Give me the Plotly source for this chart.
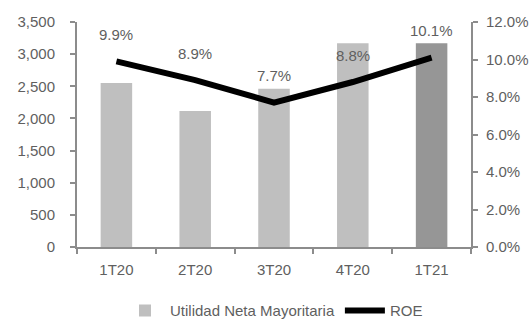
import plotly.graph_objects as go

categories = ["1T20", "2T20", "3T20", "4T20", "1T21"]
utilidad = [2550, 2115, 2460, 3170, 3170]
roe = [9.9, 8.9, 7.7, 8.8, 10.1]
roe_labels = ["9.9%", "8.9%", "7.7%", "8.8%", "10.1%"]
bar_colors = ["#BFBFBF", "#BFBFBF", "#BFBFBF", "#BFBFBF", "#969696"]

FONT = "Liberation Sans, Arial, sans-serif"
TXT = "#5F5F5F"
AX = "#8C8C8C"

fig = go.Figure()
fig.add_trace(go.Bar(
    x=categories, y=utilidad, name="Utilidad Neta Mayoritaria",
    marker=dict(color=bar_colors, line=dict(width=0)),
    yaxis="y",
))
fig.add_trace(go.Scatter(
    x=categories, y=[v / 100 for v in roe], name="ROE",
    mode="lines", line=dict(color="black", width=6),
    yaxis="y2",
))

for c, v, t in zip(categories, roe, roe_labels):
    fig.add_annotation(x=c, y=v / 100, yref="y2", text=t, showarrow=False,
                       yshift=27, font=dict(family=FONT, size=15, color=TXT))

fig.update_layout(
    width=532, height=322,
    margin=dict(l=77, r=61, t=22, b=75, autoexpand=False),
    paper_bgcolor="white", plot_bgcolor="white",
    font=dict(family=FONT, size=15, color=TXT),
    bargap=0.6,
    showlegend=True,
    legend=dict(orientation="h", x=0.5, xanchor="center",
                yref="container", y=0.035, yanchor="middle",
                font=dict(family=FONT, size=15, color=TXT),
                itemwidth=40, traceorder="normal"),
    xaxis=dict(showline=True, linecolor=AX, linewidth=2, ticks="outside",
               tickson="boundaries", ticklen=5, tickcolor=AX, tickwidth=2,
               ticklabelstandoff=8, showgrid=False, zeroline=False),
    yaxis=dict(range=[0, 3500], dtick=500, tickformat=",", showline=True,
               linecolor=AX, linewidth=2, ticks="outside", ticklen=5,
               tickcolor=AX, tickwidth=2, ticklabelstandoff=12,
               showgrid=False, zeroline=False),
    yaxis2=dict(range=[0, 0.12], dtick=0.02, tickformat=".1%", overlaying="y",
                side="right", showline=True, linecolor=AX, linewidth=2,
                ticks="outside", ticklen=5, tickcolor=AX, tickwidth=2,
                ticklabelstandoff=5, showgrid=False, zeroline=False),
)

fig.write_html("out.html", config={"displayModeBar": False},
               post_script="document.body.style.margin='0';document.body.style.padding='0';")
